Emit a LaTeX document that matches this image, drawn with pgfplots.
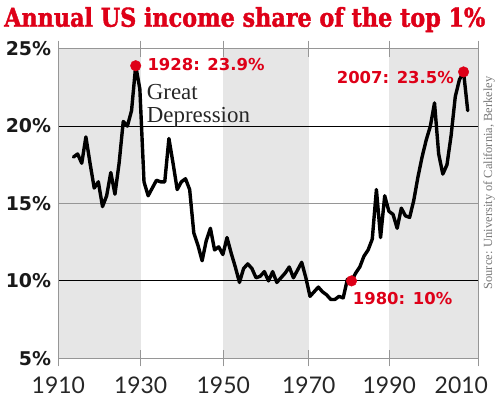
\documentclass[border=0pt]{standalone}
\usepackage{pgfplots}
\pgfplotsset{compat=1.18}
\usepackage{fontspec}
\setmainfont{Liberation Serif}
\newfontfamily\dvs{DejaVu Sans}
\newfontfamily\titlefont{DejaVu Serif}[FakeStretch=0.86, BoldFeatures={FakeBold=1.5}]
\newfontfamily\lightsans{Lato}
\definecolor{gred}{RGB}{222,0,24}
\definecolor{band}{RGB}{230,230,230}
\definecolor{frame}{RGB}{150,150,150}
\definecolor{srcgray}{RGB}{120,120,120}
\pgfplotstableread{
year share
1913 18.0
1914 18.2
1915 17.6
1916 19.3
1917 17.6
1918 16.0
1919 16.4
1920 14.8
1921 15.5
1922 17.0
1923 15.6
1924 17.6
1925 20.3
1926 20.0
1927 21.0
1928 23.9
1929 22.4
1930 16.4
1931 15.5
1932 16.0
1933 16.5
1934 16.4
1935 16.4
1936 19.2
1937 17.6
1938 15.9
1939 16.4
1940 16.6
1941 15.9
1942 13.1
1943 12.3
1944 11.3
1945 12.6
1946 13.4
1947 12.0
1948 12.2
1949 11.7
1950 12.8
1951 11.8
1952 10.9
1953 9.9
1954 10.8
1955 11.1
1956 10.8
1957 10.2
1958 10.3
1959 10.6
1960 10.0
1961 10.6
1962 9.9
1963 10.2
1964 10.5
1965 10.9
1966 10.2
1967 10.7
1968 11.2
1969 10.2
1970 9.0
1971 9.3
1972 9.6
1973 9.3
1974 9.1
1975 8.8
1976 8.8
1977 9.0
1978 8.9
1979 10.1
1980 10.0
1981 10.5
1982 10.9
1983 11.6
1984 12.0
1985 12.7
1986 15.9
1987 12.8
1988 15.5
1989 14.5
1990 14.3
1991 13.4
1992 14.7
1993 14.2
1994 14.1
1995 15.2
1996 16.7
1997 18.0
1998 19.1
1999 20.0
2000 21.5
2001 18.2
2002 16.9
2003 17.5
2004 19.4
2005 21.9
2006 23.0
2007 23.5
2008 21.0
}\sharedata
\begin{document}
\begin{tikzpicture}
\path[use as bounding box] (0,0) rectangle (500bp,399bp);
\node[anchor=base west, inner sep=0] at (4bp,372.3bp)
  {\resizebox{481bp}{!}{\color{gred}\titlefont\bfseries Annual US income share of the top 1\%}};
\begin{axis}[
  at={(58.3bp,40.7bp)}, anchor=south west,
  width=420bp, height=309.6bp, scale only axis,
  xmin=1909.35, xmax=2010.55, ymin=5, ymax=25,
  clip=false, axis on top=true,
  axis line style={draw=frame, line width=0.9bp},
  xtick={1909.35,1929.2,1949.1,1969.7,1989.1},
  xticklabels={1910,1930,1950,1970,1990},
  extra x ticks={2010.55}, extra x tick labels={2010},
  extra x tick style={xticklabel style={xshift=-17bp}},
  major tick length=16bp, tick align=center,
  x tick style={draw=frame, line width=0.9bp},
  ytick={5,10,15,20,25},
  yticklabels={5\%,10\%,15\%,20\%,\raisebox{-2bp}{25\%}},
  y tick style={draw=none},
  xticklabel style={font=\lightsans\fontsize{23}{23}\selectfont, text=black!85, anchor=base, inner sep=0pt, yshift=-26.7bp},
  yticklabel style={font=\dvs\bfseries\fontsize{19}{19}\selectfont, text=black!90, anchor=east, inner sep=0pt, xshift=1bp},
]
\fill[band] (axis cs:1909.35,5) rectangle (axis cs:1929.2,25);
\fill[band] (axis cs:1949.1,5) rectangle (axis cs:1969.7,25);
\fill[band] (axis cs:1989.1,5) rectangle (axis cs:2010.55,25);
\draw[frame, line width=0.9bp] (axis cs:1909.35,15) -- (axis cs:2010.55,15);
\draw[black, line width=0.9bp] (axis cs:1909.35,10) -- (axis cs:2010.55,10);
\draw[black, line width=0.9bp] (axis cs:1909.35,20) -- (axis cs:2010.55,20);
\addplot[black, line width=3.4bp, line join=round, line cap=round, mark=none] table[x=year, y=share] {\sharedata};
\addplot[only marks, mark=*, mark size=5.3bp, color=gred, mark options={draw=gred, fill=gred}] coordinates {(1928,23.9) (1980,10.0) (2007,23.5)};
\end{axis}
\node[anchor=base west, inner sep=0, text=gred] at (147.3bp,328.3bp) {\dvs\bfseries\fontsize{16.5}{16.5}\selectfont 1928: 23.9\%};
\node[anchor=base east, inner sep=0, text=gred] at (454bp,315.7bp) {\dvs\bfseries\fontsize{16.5}{16.5}\selectfont 2007: 23.5\%};
\node[anchor=base west, inner sep=0, text=gred] at (352.7bp,94bp) {\dvs\bfseries\fontsize{16.5}{16.5}\selectfont 1980: 10\%};
\node[anchor=base west, inner sep=0, text=black!85] at (146.7bp,299bp) {\fontsize{23}{23}\selectfont Great};
\node[anchor=base west, inner sep=0, text=black!85] at (146.7bp,276.3bp) {\fontsize{23}{23}\selectfont Depression};
\node[rotate=90, anchor=center, inner sep=0, text=srcgray] at (489bp,216bp) {\fontsize{12.5}{12.5}\selectfont Source: University of California, Berkeley};
\end{tikzpicture}
\end{document}
